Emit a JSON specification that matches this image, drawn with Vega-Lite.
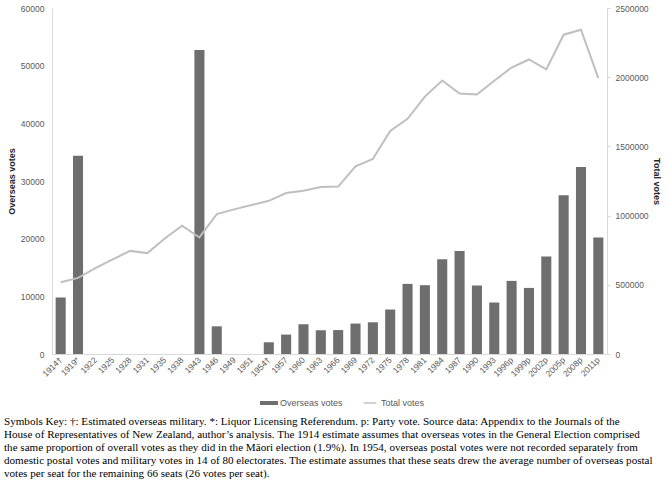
{
  "$schema": "https://vega.github.io/schema/vega-lite/v6.json",
  "autosize": {"type": "none"},
  "width": 555,
  "height": 346,
  "padding": {"left": 52, "top": 8, "right": 61, "bottom": 130},
  "background": "white",
  "config": {
    "view": {"stroke": null},
    "axis": {"labelFont": "Liberation Sans", "labelFontSize": 8.5, "labelColor": "#595959", "titleFont": "Liberation Sans", "titleFontSize": 9, "titleFontWeight": "bold", "titleColor": "#262626", "grid": false, "domainColor": "#d9d9d9", "tickColor": "#d9d9d9", "labelOverlap": false}
  },
  "title": {
    "text": [
      "Symbols Key: †: Estimated overseas military.  *: Liquor Licensing Referendum.  p: Party vote. Source data: Appendix to the Journals of the",
      "House of Representatives of New Zealand, author’s analysis. The 1914 estimate assumes that overseas votes in the General Election comprised",
      "the same proportion of overall votes as they did in the Māori election (1.9%). In 1954, overseas postal votes were not recorded separately from",
      "domestic postal votes and military votes in 14 of 80 electorates. The estimate assumes that these seats drew the average number of overseas postal",
      "votes per seat for the remaining 66 seats (26 votes per seat)."
    ],
    "orient": "bottom",
    "anchor": "start",
    "frame": "group",
    "font": "Liberation Serif",
    "dx": -48,
    "offset": 8,
    "fontSize": 11.1,
    "lineHeight": 13,
    "fontWeight": "normal",
    "color": "#000000"
  },
  "data": {
    "values": [
      {"election": "1914†", "overseas": 9800, "total": 519000},
      {"election": "1919*", "overseas": 34400, "total": 550000},
      {"election": "1922", "overseas": null, "total": 620000},
      {"election": "1925", "overseas": null, "total": 683000},
      {"election": "1928", "overseas": null, "total": 745000},
      {"election": "1931", "overseas": null, "total": 729000},
      {"election": "1935", "overseas": null, "total": 835000},
      {"election": "1938", "overseas": null, "total": 927000},
      {"election": "1943", "overseas": 52700, "total": 842000},
      {"election": "1946", "overseas": 4800, "total": 1011000},
      {"election": "1949", "overseas": null, "total": 1045000},
      {"election": "1951", "overseas": null, "total": 1076000},
      {"election": "1954†", "overseas": 2030, "total": 1107000},
      {"election": "1957", "overseas": 3370, "total": 1163000},
      {"election": "1960", "overseas": 5160, "total": 1180000},
      {"election": "1963", "overseas": 4120, "total": 1206000},
      {"election": "1966", "overseas": 4150, "total": 1210000},
      {"election": "1969", "overseas": 5280, "total": 1356000},
      {"election": "1972", "overseas": 5500, "total": 1409000},
      {"election": "1975", "overseas": 7710, "total": 1612000},
      {"election": "1978", "overseas": 12160, "total": 1699000},
      {"election": "1981", "overseas": 11930, "total": 1860000},
      {"election": "1984", "overseas": 16450, "total": 1976000},
      {"election": "1987", "overseas": 17840, "total": 1882000},
      {"election": "1990", "overseas": 11880, "total": 1875000},
      {"election": "1993", "overseas": 8930, "total": 1974000},
      {"election": "1996p", "overseas": 12680, "total": 2070000},
      {"election": "1999p", "overseas": 11460, "total": 2128000},
      {"election": "2002p", "overseas": 16920, "total": 2056000},
      {"election": "2005p", "overseas": 27510, "total": 2307000},
      {"election": "2008p", "overseas": 32430, "total": 2343000},
      {"election": "2011p", "overseas": 20220, "total": 1993000}
    ]
  },
  "encoding": {
    "x": {
      "field": "election",
      "type": "nominal",
      "sort": null,
      "scale": {
        "domain": ["1914†", "1919*", "1922", "1925", "1928", "1931", "1935", "1938", "1943", "1946", "1949", "1951", "1954†", "1957", "1960", "1963", "1966", "1969", "1972", "1975", "1978", "1981", "1984", "1987", "1990", "1993", "1996p", "1999p", "2002p", "2005p", "2008p", "2011p"],
        "paddingInner": 0.42,
        "paddingOuter": 0.21
      },
      "axis": {"title": null, "labelAngle": -45, "labelAlign": "right", "labelBaseline": "middle", "ticks": false, "labelPadding": 4, "domainColor": "#d9d9d9"}
    }
  },
  "layer": [
    {
      "mark": {"type": "bar", "color": "#6e6e6e"},
      "encoding": {
        "y": {
          "field": "overseas",
          "type": "quantitative",
          "scale": {"domain": [0, 60000], "nice": false},
          "axis": {"title": "Overseas votes", "values": [0, 10000, 20000, 30000, 40000, 50000, 60000], "ticks": false, "labelPadding": 8, "format": "d", "titlePadding": 4}
        },
        "color": {
          "datum": "Overseas votes",
          "scale": {"domain": ["Overseas votes", "Total votes"], "range": ["#6e6e6e", "#bfbfbf"]},
          "legend": {
            "title": null,
            "orient": "none",
            "legendX": 208,
            "legendY": 386,
            "direction": "horizontal",
            "labelFont": "Liberation Sans",
            "labelFontSize": 9,
            "labelColor": "#595959",
            "symbolSize": 324,
            "symbolStrokeWidth": 0,
            "columnPadding": 18,
            "labelOffset": 2,
            "encode": {
              "symbols": {
                "update": {
                  "shape": {"signal": "datum.value === 'Total votes' ? 'M-0.7,-0.08H0.7V0.08H-0.7Z' : 'M-1,-0.22H1V0.22H-1Z'"},
                  "fill": {"signal": "datum.value === 'Total votes' ? '#bfbfbf' : '#6e6e6e'"},
                  "strokeWidth": {"value": 0}
                }
              }
            }
          }
        }
      }
    },
    {
      "mark": {"type": "line", "strokeWidth": 2, "color": "#bfbfbf"},
      "encoding": {
        "y": {
          "field": "total",
          "type": "quantitative",
          "scale": {"domain": [0, 2500000], "nice": false},
          "axis": {"title": "Total votes", "orient": "right", "values": [0, 500000, 1000000, 1500000, 2000000, 2500000], "format": "d", "tickSize": 3, "labelPadding": 5, "titlePadding": 3}
        },
        "color": {"datum": "Total votes"}
      }
    }
  ],
  "resolve": {"scale": {"y": "independent"}}
}
